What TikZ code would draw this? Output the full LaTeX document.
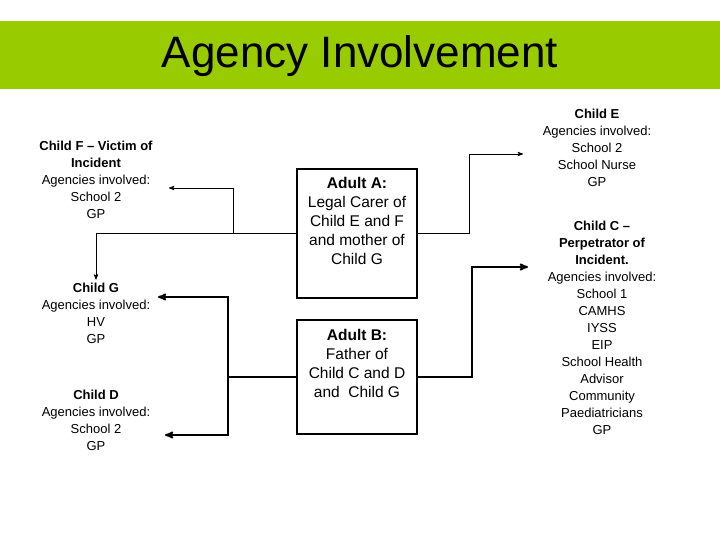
\documentclass[tikz,border=0pt]{standalone}
\usepackage{fontspec}
\setmainfont{Liberation Sans}
\usetikzlibrary{arrows}
\definecolor{lgreen}{RGB}{153,204,0}

\begin{document}
\begin{tikzpicture}[x=1pt,y=-1pt,>=stealth',shorten >=0pt]
      \tikzstyle{child}=[align=center,font=\fontsize{13}{17}\selectfont,inner sep=3pt]
      \tikzstyle{adult}=[draw,line width=1.6pt,minimum width=120pt,inner sep=0pt]
      \tikzstyle{adulttext}=[align=center,font=\fontsize{15.5}{19}\selectfont,anchor=north]
      \tikzstyle{thinline}=[line width=0.9pt]
      \tikzstyle{thickline}=[line width=1.8pt]

      \useasboundingbox (0,0) rectangle (720,540);
      \fill[lgreen] (0,21) rectangle (720,89);
      \node[font=\fontsize{44}{50}\selectfont] (title) at (360,56) {Agency Involvement};

      % adults
      \node[adult,minimum height=129pt] (adA) at (357,233.5) {};
      \node[adulttext] (adAtxt) at ([yshift=-6pt]adA.north) {\textbf{Adult A:}\\Legal Carer of\\Child E and F\\and mother of\\Child G};
      \node[adult,minimum height=114pt] (adB) at (357,377) {};
      \node[adulttext] (adBtxt) at ([yshift=-7pt]adB.north) {\textbf{Adult B:}\\Father of\\Child C and D\\and~ Child G};

      % children
      \node[child] (chF) at (96,180)    {\textbf{Child F -- Victim of}\\\textbf{Incident}\\Agencies involved:\\School 2\\GP};
      \node[child] (chG) at (96,313)    {\textbf{Child G}\\Agencies involved:\\HV\\GP};
      \node[child] (chD) at (96,420.5)  {\textbf{Child D}\\Agencies involved:\\School 2\\GP};
      \node[child] (chE) at (597,148)   {\textbf{Child E}\\Agencies involved:\\School 2\\School Nurse\\GP};
      \node[child] (chC) at (602,328)   {\textbf{Child C --}\\\textbf{Perpetrator of}\\\textbf{Incident.}\\Agencies involved:\\School 1\\CAMHS\\IYSS\\EIP\\School Health\\Advisor\\Community\\Paediatricians\\GP};

      \coordinate (forkA) at (233,233.5);
      \coordinate (tipF)  at (169,188);
      \coordinate (turnE) at (469,154);
      \coordinate (tipE)  at (523,154);
      \coordinate (forkB) at (228,377);
      \coordinate (tipG)  at (158,297);
      \coordinate (tipD)  at (165,435);
      \coordinate (turnC) at (472,267);
      \coordinate (tipC)  at (528,267);

      \draw[thinline,->] (adA.west) -| (chG.north);
      \draw[thinline,->] (forkA) |- (tipF);
      \draw[thinline,->] (adA.east) -| (turnE) -- (tipE);

      \draw[thickline] (adB.west) -- (forkB);
      \draw[thickline,->] (forkB) |- (tipG);
      \draw[thickline,->] (forkB) |- (tipD);
      \draw[thickline,->] (adB.east) -| (turnC) -- (tipC);
\end{tikzpicture}
\end{document}
